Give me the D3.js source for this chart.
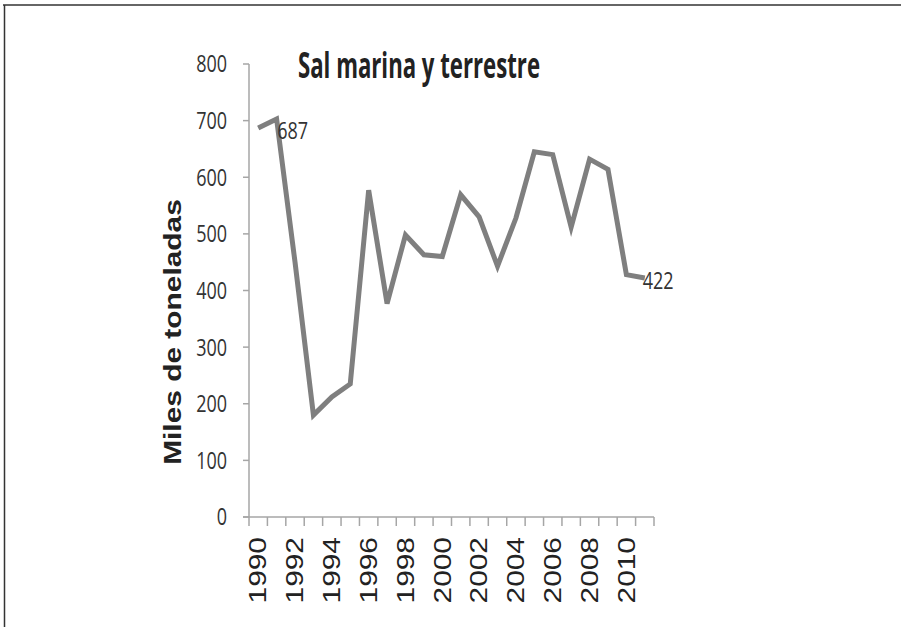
<!DOCTYPE html>
<html>
<head>
<meta charset="utf-8">
<script src="https://cdn.jsdelivr.net/npm/d3@7"></script>
<style>
  body { margin: 0; background: #fff; }
  svg { display: block; }
</style>
</head>
<body>
<svg id="chart" width="901" height="627"></svg>
<script>
// data (miles de toneladas)
var years = ["1990","1991","1992","1993","1994","1995","1996","1997","1998","1999","2000",
             "2001","2002","2003","2004","2005","2006","2007","2008","2009","2010","2011"];
var values = [687, 703, 450, 180, 212, 235, 577, 377, 498, 463, 460,
              569, 530, 443, 528, 645, 640, 512, 632, 614, 428, 422];
var yTicks = [0, 100, 200, 300, 400, 500, 600, 700, 800];
var xLabels = ["1990","1992","1994","1996","1998","2000","2002","2004","2006","2008","2010"];
var pointLabels = [{i: 0, text: "687", dx: 19}, {i: 21, text: "422", dx: -2}];

var svg = d3.select("#chart");
var plotLeft = 249, plotRight = 654, plotTop = 64, plotBottom = 517;
var axisColor = "#a6a6a6";
var lineColor = "#7f7f7f";
var stretch = 1.3; // the picture is stretched vertically

// frame
svg.append("line").attr("x1", 3).attr("x2", 901).attr("y1", 5).attr("y2", 5)
  .attr("stroke", "#333").attr("stroke-width", 1.5);
svg.append("line").attr("x1", 4.5).attr("x2", 4.5).attr("y1", 5).attr("y2", 627)
  .attr("stroke", "#333").attr("stroke-width", 1.5);

var x = d3.scaleBand().domain(years).range([plotLeft, plotRight]).padding(0);
var y = d3.scaleLinear().domain([0, 800]).range([plotBottom, plotTop]);

// y axis
var gy = svg.append("g");
gy.append("line").attr("x1", plotLeft).attr("x2", plotLeft).attr("y1", plotTop).attr("y2", plotBottom)
  .attr("stroke", axisColor).attr("stroke-width", 1.5);
gy.selectAll(".ytick").data(yTicks).enter().append("line")
  .attr("x1", plotLeft - 6).attr("x2", plotLeft)
  .attr("y1", d => y(d)).attr("y2", d => y(d))
  .attr("stroke", axisColor).attr("stroke-width", 1.5);
gy.selectAll(".ylabel").data(yTicks).enter().append("text")
  .attr("transform", d => "translate(" + (plotLeft - 22) + "," + y(d) + ") scale(1," + stretch + ")")
  .attr("text-anchor", "end")
  .attr("dy", "0.36em")
  .style("font-family", "'Open Sans'")
  .style("font-size", "18px")
  .attr("fill", "#333")
  .text(d => d);

// x axis
var gx = svg.append("g");
gx.append("line").attr("x1", plotLeft - 6).attr("x2", plotRight).attr("y1", plotBottom).attr("y2", plotBottom)
  .attr("stroke", axisColor).attr("stroke-width", 1.5);
var bounds = years.map(d => x(d)).concat([plotRight]);
gx.selectAll(".xtick").data(bounds).enter().append("line")
  .attr("x1", d => d).attr("x2", d => d)
  .attr("y1", plotBottom).attr("y2", plotBottom + 9)
  .attr("stroke", axisColor).attr("stroke-width", 1.5);
gx.selectAll(".xlabel").data(xLabels).enter().append("text")
  .attr("transform", d => "translate(" + (x(d) + x.bandwidth() / 2) + "," + (plotBottom + 20) + ") rotate(-90) scale(" + stretch + ",1)")
  .attr("text-anchor", "end")
  .attr("dy", "0.36em")
  .style("font-family", "'Liberation Sans', Arial")
  .style("font-size", "23px")
  .attr("fill", "#222")
  .text(d => d);

// y axis title
svg.append("text")
  .attr("transform", "translate(173,332) rotate(-90) scale(" + stretch + ",1)")
  .attr("text-anchor", "middle")
  .attr("dy", "0.36em")
  .style("font-family", "'Liberation Sans', Arial")
  .style("font-size", "23px")
  .style("font-weight", "bold")
  .attr("fill", "#222")
  .text("Miles de toneladas");

// chart title
svg.append("text")
  .attr("x", 298).attr("y", 78)
  .attr("textLength", 242).attr("lengthAdjust", "spacingAndGlyphs")
  .style("font-family", "'Open Sans'")
  .style("font-size", "29px")
  .style("font-weight", "bold")
  .attr("fill", "#222")
  .attr("transform", "translate(0,-18) scale(1,1.23)")
  .text("Sal marina y terrestre");

// the line
var line = d3.line()
  .x((d, i) => x(years[i]) + x.bandwidth() / 2)
  .y(d => y(d));
svg.append("path").datum(values)
  .attr("d", line)
  .attr("fill", "none")
  .attr("stroke", lineColor)
  .attr("stroke-width", 5)
  .attr("stroke-linejoin", "miter");

// data labels
svg.selectAll(".plabel").data(pointLabels).enter().append("text")
  .attr("transform", d => "translate(" + (x(years[d.i]) + x.bandwidth() / 2 + d.dx) + "," + (y(values[d.i]) + 3) + ") scale(1," + stretch + ")")
  .attr("dy", "0.36em")
  .style("font-family", "'Open Sans'")
  .style("font-size", "18px")
  .attr("fill", "#333")
  .text(d => d.text);
</script>
</body>
</html>
